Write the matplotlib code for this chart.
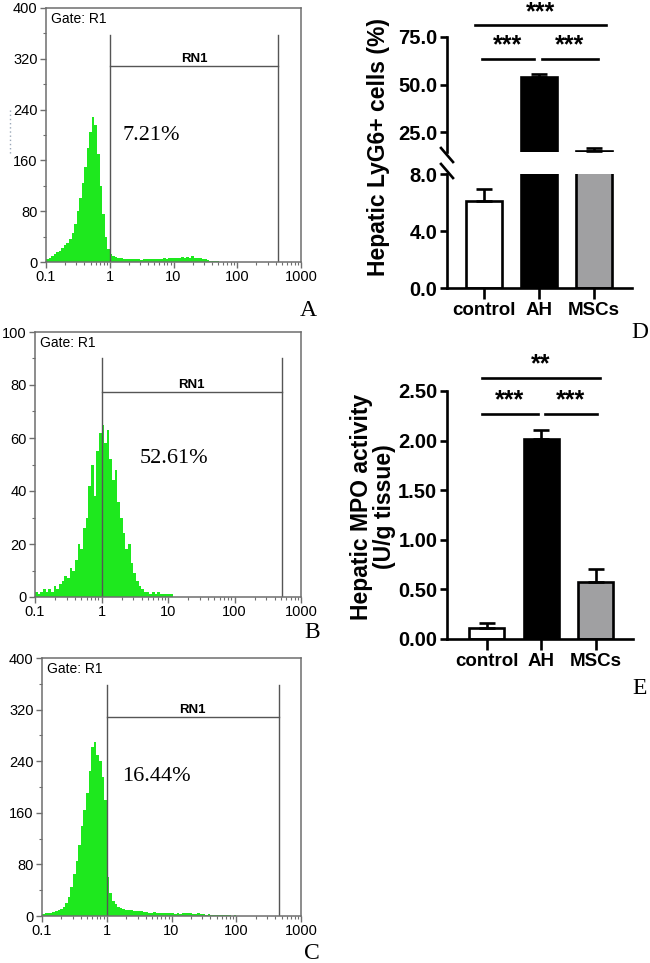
import numpy as np
import matplotlib
matplotlib.use("Agg")
import matplotlib.pyplot as plt
from matplotlib.ticker import FixedLocator, NullFormatter

plt.rcParams['font.family'] = ['Liberation Sans', 'DejaVu Sans']

# flow cytometry histograms: counts per log bin (0.04 decade wide, starting at 0.1)
hist_a = [5, 7, 9, 12, 15, 18, 22, 26, 30, 36, 45, 60, 80, 100, 125,
          150, 180, 205, 228, 215, 170, 120, 75, 40, 20, 12, 10, 8, 7, 6,
          5, 4, 5, 4, 5, 4, 4, 3, 4, 4, 5, 4, 5, 5, 4, 5, 6, 5, 6, 7,
          6, 7, 6, 8, 7, 8, 7, 9, 7, 6, 6, 5, 4, 3, 2, 2, 1, 1, 0, 0]
hist_b = [2, 1, 2, 3, 2, 3, 2, 4, 3, 5, 6, 8, 7, 11, 10,
          14, 20, 18, 26, 30, 42, 50, 38, 55, 62, 65, 58, 63, 52, 44,
          48, 36, 30, 24, 18, 20, 13, 9, 6, 4, 3, 2, 2, 1, 2, 1, 2, 1, 1, 1,
          1, 1, 0, 0, 0]
hist_c = [3, 4, 5, 5, 6, 7, 9, 11, 14, 20, 30, 45, 65, 85, 110,
          140, 165, 190, 225, 262, 270, 250, 240, 215, 180, 60, 35, 24, 18, 14,
          12, 11, 10, 10, 9, 8, 8, 7, 7, 6, 6, 5, 5, 6, 5, 4, 5, 4, 4, 4,
          4, 3, 4, 3, 4, 4, 5, 4, 3, 3, 4, 3, 3, 2, 3, 2, 2, 2, 1, 1,
          1, 1, 1, 0, 1]
pct_labels = ["7.21%", "52.61%", "16.44%"]
y_max = [400, 100, 400]
y_major = [[0, 80, 160, 240, 320, 400], [0, 20, 40, 60, 80, 100], [0, 80, 160, 240, 320, 400]]
gate_low = [1, 1, 1]
gate_high = [436, 516, 457]
gate_bar = [309, 77.4, 308]
gate_top = [357, 90, 358]

# bar charts
groups = ["control", "AH", "MSCs"]
bar_colors = ["white", "black", "#a0a0a2"]
ly6g_mean = [6.1, 53.9, 15.0]
ly6g_err = [0.85, 1.6, 1.6]
mpo_mean = [0.11, 2.02, 0.57]
mpo_err = [0.05, 0.09, 0.14]

W, H = 650, 963
fig = plt.figure(figsize=(W / 100, H / 100), dpi=100)


def px_axes(left, top, right, bottom):
    return fig.add_axes([left / W, 1 - bottom / H, (right - left) / W, (bottom - top) / H])


hist_boxes = [(46, 8, 301, 262), (35, 332, 301, 597), (42, 658, 301, 916)]
pct_pos = [(122, 135), (140, 458), (122, 776)]
frame = "#6e6e6e"
for i, hist in enumerate([hist_a, hist_b, hist_c]):
    ax = px_axes(*hist_boxes[i])
    edges = 10 ** (-1 + 0.04 * np.arange(len(hist) + 1))
    ax.stairs(hist, edges, fill=True, color="#1ee81e", lw=0)
    ax.set_xscale("log")
    ax.set_xlim(0.1, 1000)
    ax.set_ylim(0, y_max[i])
    ax.set_xticks([0.1, 1, 10, 100, 1000])
    ax.set_xticklabels(["0.1", "1", "10", "100", "1000"])
    ax.set_yticks(y_major[i])
    step = y_major[i][1] / 2
    ax.yaxis.set_minor_locator(FixedLocator(np.arange(step, y_max[i], 2 * step)))
    ax.xaxis.set_minor_formatter(NullFormatter())
    for s in ax.spines.values():
        s.set_color(frame)
        s.set_linewidth(1.1)
    ax.tick_params(which="major", length=4, width=1, color=frame, labelsize=10.5, pad=2)
    ax.tick_params(which="minor", length=2.5, width=0.8, color=frame)
    # gate RN1
    ax.plot([gate_low[i], gate_low[i]], [0, gate_top[i]], color="#555555", lw=1)
    ax.plot([gate_high[i], gate_high[i]], [0, gate_top[i]], color="#555555", lw=1)
    ax.plot([gate_low[i], gate_high[i]], [gate_bar[i], gate_bar[i]], color="#555555", lw=1)
    ax.text(np.sqrt(gate_low[i] * gate_high[i]), gate_bar[i] + y_max[i] * 0.005, "RN1",
            ha="center", va="bottom", fontsize=9.5, fontweight="bold")
    ax.text(0.02, 0.985, "Gate: R1", transform=ax.transAxes, ha="left", va="top", fontsize=10)
    fig.text(pct_pos[i][0] / W, 1 - pct_pos[i][1] / H, pct_labels[i], family="Liberation Serif",
             fontsize=16, ha="left", va="center")

for lab, (x, y) in zip("ABCDE", [(308, 310), (312, 633), (312, 953), (640, 333), (640, 688)]):
    fig.text(x / W, 1 - y / H, lab, family="Liberation Serif", fontsize=17, ha="center", va="center")

# dotted artefact left of panel A
fig.add_artist(plt.Line2D([10 / W, 10 / W], [1 - 110 / H, 1 - 155 / H], color="#9aa8b8",
                          lw=1, ls=(0, (1, 2))))

pos = np.arange(len(groups))
bw = 0.64
spine_w = 1.9


def style_bar_axes(ax):
    for s in ["top", "right"]:
        ax.spines[s].set_visible(False)
    for s in ["left", "bottom"]:
        ax.spines[s].set_linewidth(spine_w)
    ax.tick_params(width=spine_w, length=5, pad=2)
    ax.tick_params(axis="y", labelsize=14.5)
    ax.tick_params(axis="x", labelsize=13.5, length=8)
    for t in ax.get_yticklabels() + ax.get_xticklabels():
        t.set_fontweight("bold")


def draw_bars(ax, mean, err):
    ax.bar(pos, mean, width=bw, color=bar_colors, edgecolor="black", linewidth=1.9)
    ax.errorbar(pos, mean, yerr=[np.zeros(len(mean)), err], fmt="none", ecolor="black",
                elinewidth=1.9, capsize=5.5, capthick=1.9)


def stars(ax, x0, x1, y, label, lift=5):
    ax.plot([x0, x1], [y, y], color="black", lw=1.9, clip_on=False)
    ax.annotate(label, ((x0 + x1) / 2, y), xytext=(0, lift), textcoords="offset points",
                ha="center", va="baseline", fontsize=18, fontweight="bold",
                annotation_clip=False)


# panel D: broken axis
ax_lo = px_axes(447, 174, 632, 288)
ax_hi = px_axes(447, 37, 632, 152)
for ax in (ax_lo, ax_hi):
    draw_bars(ax, ly6g_mean, ly6g_err)
    ax.set_xlim(-0.67, 2.69)
ax_lo.set_ylim(0, 8)
ax_lo.set_yticks([0, 4, 8])
ax_lo.set_yticklabels(["0.0", "4.0", "8.0"])
ax_lo.set_xticks(pos)
ax_lo.set_xticklabels(groups)
style_bar_axes(ax_lo)
ax_hi.set_ylim(14.5, 75)
ax_hi.set_yticks([25, 50, 75])
ax_hi.set_yticklabels(["25.0", "50.0", "75.0"])
style_bar_axes(ax_hi)
ax_hi.spines["bottom"].set_visible(False)
ax_hi.set_xticks([])
for y0 in (148, 164):
    fig.add_artist(plt.Line2D([441 / W, 453 / W], [1 - y0 / H, 1 - (y0 + 14) / H],
                              color="black", lw=1.9))
fig.text(379 / W, 1 - 147 / H, "Hepatic LyG6+ cells (%)", rotation=90, ha="center",
         va="center", fontsize=16.5, fontweight="bold")
stars(ax_hi, -0.04, 0.91, 63.4, "***")
stars(ax_hi, 1.05, 2.07, 63.4, "***")
stars(ax_hi, -0.16, 2.22, 81.3, "***", lift=4.2)

# panel E
ax_e = px_axes(447, 391, 633, 639)
draw_bars(ax_e, mpo_mean, mpo_err)
ax_e.set_xlim(-0.73, 2.68)
ax_e.set_ylim(0, 2.5)
ax_e.set_yticks([0, 0.5, 1.0, 1.5, 2.0, 2.5])
ax_e.set_yticklabels(["0.00", "0.50", "1.00", "1.50", "2.00", "2.50"])
ax_e.set_xticks(pos)
ax_e.set_xticklabels(groups)
style_bar_axes(ax_e)
fig.text(373 / W, 1 - 507 / H, "Hepatic MPO activity\n(U/g tissue)", rotation=90,
         ha="center", va="center", fontsize=16.5, fontweight="bold", linespacing=0.95)
stars(ax_e, -0.09, 0.94, 2.27, "***")
stars(ax_e, 1.06, 2.02, 2.27, "***")
stars(ax_e, -0.09, 2.07, 2.63, "**")

fig.savefig("out.png", dpi=100)
